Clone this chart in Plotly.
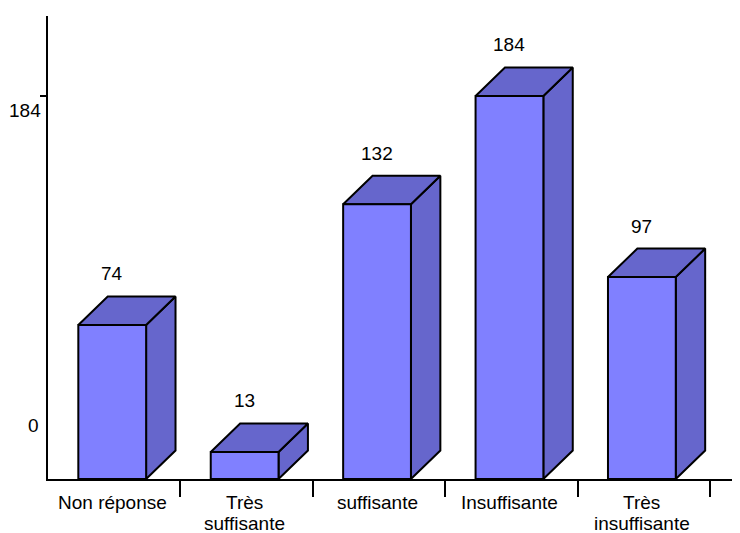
import plotly.graph_objects as go

categories = [["Non réponse"], ["Très", "suffisante"], ["suffisante"], ["Insuffisante"], ["Très", "insuffisante"]]
values = [74, 13, 132, 184, 97]
y_tick_labels = ["0", "184"]

FRONT = "#8080FF"
DARK = "#6666CC"
FONT = dict(family="Liberation Sans, Arial, sans-serif", size=19, color="black")

half_w = 0.256   # half width of front face (category units)
dx = 0.222       # depth offset in x (category units)
dy = 13.7        # depth offset in y (data units)
off = -0.015     # small shift of the bar fronts within the category

fig = go.Figure()

def poly(xs, ys, color):
    fig.add_trace(go.Scatter(
        x=xs + [xs[0]], y=ys + [ys[0]], mode="lines", fill="toself",
        fillcolor=color, line=dict(color="black", width=2),
        hoverinfo="skip", showlegend=False))

for i, v in enumerate(values):
    c = i + off
    x0, x1 = c - half_w, c + half_w
    poly([x1, x1 + dx, x1 + dx, x1], [0, dy, v + dy, v], DARK)      # side
    poly([x0, x1, x1 + dx, x0 + dx], [v, v, v + dy, v + dy], DARK)  # top
    poly([x0, x1, x1, x0], [0, 0, v, v], FRONT)                     # front
    fig.add_annotation(x=c, y=v, text=str(v), showarrow=False, yshift=51,
                       font=FONT, xanchor="center", yanchor="middle")

# category labels, one annotation per line
for i, lines in enumerate(categories):
    for j, line in enumerate(lines):
        fig.add_annotation(x=i + off, y=0, text=line, showarrow=False,
                           yshift=-23 - 21 * j, font=FONT,
                           xanchor="center", yanchor="middle")

# y axis labels (placed as in the reference)
fig.add_annotation(x=0, xref="paper", y=184, text=y_tick_labels[1], showarrow=False,
                   xanchor="right", yanchor="middle", xshift=-5, yshift=-15, font=FONT)
fig.add_annotation(x=0, xref="paper", y=0, text=y_tick_labels[0], showarrow=False,
                   xanchor="right", yanchor="middle", xshift=-7, yshift=54, font=FONT)

n = len(values)
fig.update_layout(
    width=732, height=525,
    margin=dict(l=40, r=0, t=8, b=54),
    plot_bgcolor="white", paper_bgcolor="white",
    font=FONT,
    xaxis=dict(
        range=[-0.5, n - 0.5 + 0.226],
        tickvals=[i + 0.5 for i in range(n)], showticklabels=False,
        ticks="outside", ticklen=16, tickwidth=2, tickcolor="black",
        showline=True, linecolor="black", linewidth=2,
        showgrid=False, zeroline=False, fixedrange=True,
    ),
    yaxis=dict(
        range=[0, 222.4],
        tickvals=[184], showticklabels=False, ticks="outside", ticklen=6,
        tickwidth=2, tickcolor="black",
        showline=True, linecolor="black", linewidth=2,
        showgrid=False, zeroline=False, fixedrange=True,
    ),
)

fig.write_html("out.html")
